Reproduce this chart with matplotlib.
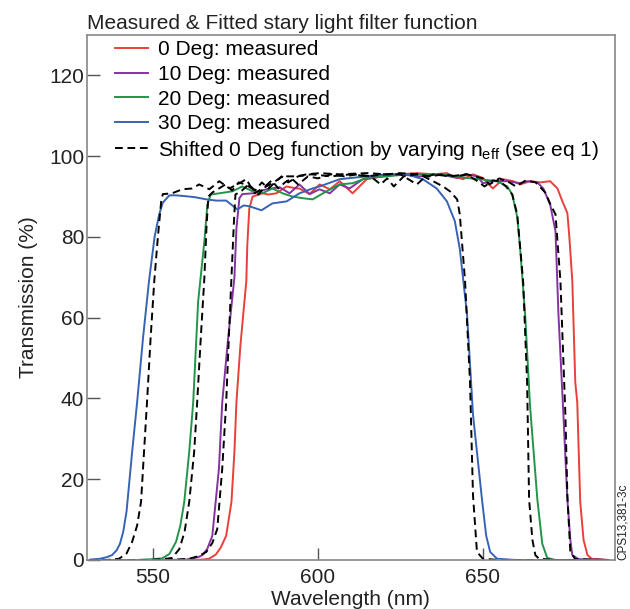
import matplotlib
matplotlib.use("Agg")
import matplotlib.pyplot as plt

plt.rcParams['font.family'] = ['Liberation Sans', 'DejaVu Sans']
plt.rcParams['mathtext.fontset'] = 'custom'
plt.rcParams['mathtext.rm'] = 'Liberation Sans'
plt.rcParams['mathtext.it'] = 'Liberation Sans'

# 0 Deg measured
x0 = [531, 561, 565, 567, 569, 570.5, 572.2, 573.8, 574.7, 575.3, 576.5, 577.5, 578.3, 578.6, 579.2, 580.2,
      583.2, 585, 587.4, 590.5, 593.5, 594.4, 597.5, 600.5, 603.6, 606.6, 610.5, 614.8, 619.7,
      624.8, 630, 634.9, 639.1, 641, 644, 647, 650, 653, 656.1, 659.2, 661.3, 664.3, 667.4,
      670.4, 672.6, 674.1, 675.6, 676.2, 677.1, 678, 678.6, 679.5, 680.5, 681.7, 683, 688]
y0 = [0, 0, 0.1, 0.3, 1.3, 3, 6, 14.4, 26.8, 39, 53, 62, 69, 78, 87, 90,
      90.8, 90.5, 90.8, 92.5, 92, 92, 90.6, 93, 91.8, 93.8, 90.8, 94.3, 95,
      95.5, 95.8, 95.5, 95.8, 95, 94.3, 95.5, 94.6, 92, 94.3, 93.8, 93, 93.8, 93.5,
      93.8, 92, 88.8, 85.9, 80, 69, 44, 39, 14.4, 5, 1.2, 0.3, 0]

# 10 Deg measured
x10 = [531, 555, 560, 562, 564, 565, 566.5, 568, 570, 571, 572.8, 574.7, 575.3, 576.2, 577.1, 580.2, 584.4, 588.4,
       591.4, 594.4, 597.5, 600.5, 603.6, 606.6, 609.6, 613.6, 618.8, 624.8, 630.8, 637, 642.2,
       645.2, 648.2, 650, 653, 657.4, 661.3, 663.4, 666.5, 668.3, 670.4, 672, 672.9, 674.4,
       675.6, 676.5, 677.1, 679, 688]
y10 = [0, 0, 0.1, 0.4, 0.8, 1.2, 2.8, 6, 22.6, 39, 55, 70, 82, 89.6, 90.6, 90.8, 91.8, 92.3,
       90.8, 93, 90.6, 91.8, 90.8, 93, 92, 94.3, 95, 95.5, 95, 95.5, 94.6,
       95.5, 95, 93.3, 93.8, 93.8, 93.3, 93.8, 93.5, 92, 88, 81.4, 60.8, 36,
       15, 5, 1.2, 0.2, 0]

# 20 Deg measured
x20 = [531, 545, 550, 552.8, 555, 557, 558.3, 559.5, 561, 562.2, 563.7, 565.6, 566.5, 567.5, 570.1,
       574.1, 577.1, 580.2, 583.2, 586.2, 589.3, 592.3, 595.3, 598.4, 602.6, 606.6, 610.5,
       614.8, 620.9, 627, 633, 639.1, 645.2, 649.1, 654.3, 657.4, 658.9, 660.4, 661.3, 662.8,
       664.3, 666.5, 668, 669.5, 672, 688]
y20 = [0, 0, 0.2, 0.4, 1.5, 4.5, 8.5, 14.4, 26.8, 39, 64, 79, 88, 90.5, 90.8,
       91.3, 92.5, 91.3, 90.8, 92, 90.8, 90, 89.6, 89.3, 91.3, 93, 93.3,
       94.6, 95, 95.5, 95.5, 95.3, 94.6, 94.3, 93.8, 92.5, 90.5, 85, 77, 60.8,
       38, 15, 4, 0.5, 0, 0]

# 30 Deg measured
x30 = [531, 534, 536, 537.6, 539, 540, 541, 542, 543.7, 545.2, 547, 548.8, 550.5, 551.9, 553, 555, 557, 561,
       563, 566.2, 569.2, 572.2, 575.6, 577.5, 579.2, 582.9, 586.2, 590.5, 594.4, 598.4,
       600.5, 606.6, 614.8, 620.9, 627, 631.8, 636, 639.1, 641.5, 643, 645.2, 647, 649.8,
       651, 652.2, 654.3, 660, 688]
y30 = [0.1, 0.3, 0.7, 1.2, 2.4, 4, 7, 12, 26.8, 39, 55, 69, 80, 85.6, 88.5, 90.3, 90.3, 90,
       89.8, 89.3, 89, 89, 86.8, 87.8, 87.6, 86.6, 88.3, 88.8, 90.8, 92,
       92.5, 94.3, 95, 95.5, 95.5, 94.3, 92, 88.8, 83.9, 77, 60.8, 36, 14.4,
       6, 2, 0.3, 0, 0]

# shifted 0 Deg function (matching 10, 20, 30 Deg)
xs10 = [531, 555, 561, 564, 566.2, 568, 569.5, 571, 572.2, 573, 573.8, 574.5, 575, 577, 579, 581, 583,
        585, 587, 589, 591, 594, 598, 604, 610, 615, 620, 625, 628, 630, 632, 635, 640, 645,
        650, 652, 655, 658, 660, 663, 666, 668.9, 670.5, 672, 673.5, 675, 675.6, 676.5,
        678, 688]
ys10 = [0, 0, 0.3, 1, 2, 4.2, 7.7, 22.6, 39, 55, 70, 83, 90.5, 91.5, 93, 91.5, 93.5,
        92, 93.5, 95, 93.5, 95, 95.5, 95, 95.5, 95, 95.5, 95.5, 94, 93, 94.5, 95.5, 95, 95.5,
        94.5, 93, 94.5, 93.5, 92.5, 94, 93.5, 91, 88, 85.6, 69, 36, 16, 2,
        0.2, 0]

xs20 = [531, 548, 553, 555.8, 558, 559.6, 561, 562.5, 563.4, 564.5, 565.6, 566.2, 566.8, 568, 570,
        572, 574, 576, 578, 580, 582, 584, 586, 588, 590, 592, 594, 597, 600, 604, 608, 612,
        616, 619, 621, 623, 626, 630, 634, 638, 642, 645, 648, 650.5, 653, 655, 657, 658.9,
        660.4, 662.2, 663.4, 664, 665, 665.9, 667, 672, 688]
ys20 = [0, 0, 0.2, 0.5, 2.7, 7, 14.4, 26.8, 39, 55, 70, 82, 90, 91, 92,
        93, 91.5, 93.5, 93, 92, 90.5, 92.5, 94, 92, 93.5, 94.5, 93, 95, 94.5, 95.5, 95, 95.5,
        95, 93, 94.5, 92.5, 95, 95.5, 95, 95.5, 95, 95.5, 94, 92.5, 94, 93.8, 92.5, 90.5,
        85.6, 69, 44, 15, 5, 1.2, 0.3, 0, 0]

xs30 = [531, 536, 539.7, 542, 543.7, 545.2, 546.4, 547.3, 548.2, 549.3, 550.4, 551.5, 552.5, 553, 555.8,
        558.9, 561.9, 564, 567.1, 570.1, 573.2, 576.2, 578.3, 580.8, 583.2, 586.2, 589.3,
        593.5, 596.6, 600.5, 606.6, 614.8, 620.9, 624.8, 630.8, 634.9, 637.9, 640, 642.2,
        643, 644.6, 646.1, 647, 648.2, 650, 655, 688]
ys30 = [0, 0, 0.3, 1.6, 4.5, 8.5, 14.4, 26.8, 39, 55, 69, 80, 88.8, 90.6, 90.8,
        91.8, 92, 93, 91.8, 93.8, 92, 93.3, 94.3, 90.8, 92, 93.3, 95,
        95, 95.5, 95.8, 95.5, 95.8, 95.5, 95.8, 95.5, 93.8, 92.5, 91.3, 89.3,
        85.6, 69, 44, 16, 2, 0.3, 0, 0]

labels = ["0 Deg: measured", "10 Deg: measured", "20 Deg: measured", "30 Deg: measured",
          "Shifted 0 Deg function by varying n$_{\\rm eff}$ (see eq 1)"]
colors = ["#e8403a", "#8533a0", "#23944a", "#3763b5"]

fig = plt.figure(figsize=(6.3, 6.09), dpi=100)
ax = fig.add_axes([0.138, 0.0805, 0.838, 0.862])

ax.plot(x0, y0, color=colors[0], lw=1.4, label=labels[0])
ax.plot(x10, y10, color=colors[1], lw=1.4, label=labels[1])
ax.plot(x20, y20, color=colors[2], lw=1.4, label=labels[2])
ax.plot(x30, y30, color=colors[3], lw=1.4, label=labels[3])
ax.plot(xs10, ys10, color="black", lw=1.4, dashes=(4, 2.4), label=labels[4])
ax.plot(xs20, ys20, color="black", lw=1.4, dashes=(4, 2.4))
ax.plot(xs30, ys30, color="black", lw=1.4, dashes=(4, 2.4))

ax.set_xlim(530, 690)
ax.set_ylim(0, 130)
ax.set_xticks([550, 600, 650])
ax.set_yticks([0, 20, 40, 60, 80, 100, 120])

for s in ax.spines.values():
    s.set_color("#888888")
    s.set_linewidth(1.2)
ax.tick_params(direction="in", length=9, width=1, color="#555555",
               labelsize=15, labelcolor="#222222")
ax.tick_params(axis="y", pad=2)
ax.tick_params(axis="x", pad=6)

ax.set_xlabel("Wavelength (nm)", fontsize=15, color="#222222", labelpad=2)
ax.set_ylabel("Transmission (%)", fontsize=15, color="#222222", labelpad=8)
ax.set_title("Measured & Fitted stary light filter function", loc="left",
             fontsize=15, color="#222222", pad=4)

ax.legend(loc="upper left", bbox_to_anchor=(0.053, 0.99), frameon=False,
          fontsize=15, handlelength=1.58, handletextpad=0.48, labelspacing=0.27,
          borderpad=0, borderaxespad=0)

fig.text(0.988, 0.0805, "CPS13,381-3c", rotation=90, ha="center", va="bottom",
         fontsize=8.5, color="#222222")

fig.savefig("out.png", dpi=100)
